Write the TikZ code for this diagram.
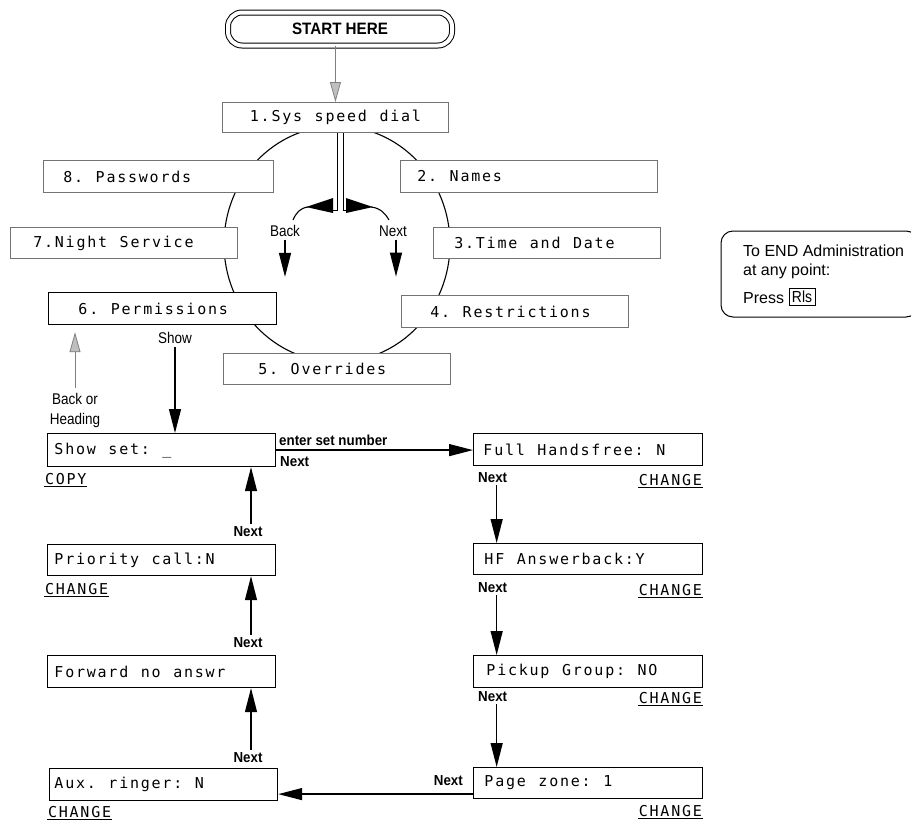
\documentclass[tikz,border=0pt]{standalone}
\usepackage{fontspec}
\setmainfont{Liberation Sans}
\newfontfamily\lcd{DejaVu Sans Mono}
\newfontfamily\nar[FakeStretch=0.87]{Liberation Sans}
\newfontfamily\narb[FakeStretch=0.92]{Liberation Sans Bold}
\usetikzlibrary{arrows.meta,calc}
\makeatletter
\newcommand\lcdtext[1]{\@tfor\lcdch:=#1\do{\makebox[10.8pt]{\lcdch}}}
\makeatother
\begin{document}
\begin{tikzpicture}[x=1pt,y=-1pt,
  menubox/.style={draw=black!55, line width=0.9pt, fill=white, anchor=north west,
    inner ysep=0pt, align=left, font=\lcd\fontsize{15}{17}\selectfont},
  setbox/.style={menubox, draw=black, line width=1.2pt},
  lbl/.style={font=\nar\fontsize{15.5}{20}\selectfont, inner sep=0pt},
  blbl/.style={font=\narb\fontsize{14.5}{16}\selectfont, inner sep=0pt},
  ul/.style={font=\lcd\fontsize{15}{17}\selectfont, inner sep=0pt},
  endtxt/.style={font=\fontsize{16}{18}\selectfont, inner sep=0pt, anchor=west},
  arr/.style={line width=1.3pt, -{Triangle[length=24pt,width=12pt]}},
  garr/.style={draw=black!50, line width=0.8pt, -{Triangle[length=20pt,width=11pt,fill=black!25]}}]
\useasboundingbox (0,0) rectangle (911,825);
\fill[white] (0,0) rectangle (911,825);

% circle of menu items
\draw[line width=1.1pt] (337,244) ellipse [x radius=113pt, y radius=118pt];

% START
\node[draw, double, double distance=4pt, line width=1pt, rounded corners=14pt,
  minimum width=224pt, minimum height=33pt, font=\narb\fontsize{16.5}{18}\selectfont]
  (start) at (340,29) {START HERE};

% menu boxes
\node[menubox, text width=178pt, inner xsep=24pt, minimum height=30pt, align=center] (sys) at (222,102) {\lcdtext{1.Sys~speed~dial}};
\node[menubox, text width=192pt, inner xsep=19pt, minimum height=32pt] (pw) at (43,160) {\lcdtext{8.~Passwords}};
\node[menubox, text width=225pt, inner xsep=16pt, minimum height=32pt] (names) at (400,160) {\lcdtext{2.~Names}};
\node[menubox, text width=183pt, inner xsep=22pt, minimum height=31pt] (night) at (10,227) {\lcdtext{7.Night~Service}};
\node[menubox, text width=187pt, inner xsep=20pt, minimum height=31pt] (time) at (433,227) {\lcdtext{3.Time~and~Date}};
\node[setbox, text width=170pt, inner xsep=29pt, minimum height=32pt] (perm) at (48,292) {\lcdtext{6.~Permissions}};
\node[menubox, text width=171pt, inner xsep=28pt, minimum height=32pt] (restr) at (401,295) {\lcdtext{4.~Restrictions}};
\node[menubox, text width=159pt, inner xsep=34pt, minimum height=31pt] (over) at (223,353) {\lcdtext{5.~Overrides}};

\draw[garr] (sys.north |- start.south) -- (sys.north);

% central Back / Next split
\coordinate (dl) at ([xshift=2pt]sys.south);
\coordinate (dr) at ([xshift=8pt]sys.south);
\draw[line width=1.1pt] (dl) -- ++(0,78) -- ++(-4,0);
\draw[line width=1.1pt] (dr) -- ++(0,78) -- ++(3,0);
\fill (333,198) -- (333,213) -- (306,207) -- cycle;
\fill (346,198) -- (346,213) -- (373,207) -- cycle;
\draw[line width=1.1pt] (308,207) .. controls (300,208) and (296,213) .. (293,220);
\draw[line width=1.1pt] (371,207) .. controls (380,208) and (385,213) .. (389,220);
\node[lbl] (back) at (285,231) {Back};
\node[lbl] (nextc) at (393,231) {Next};
\draw[arr] ([yshift=-3pt]back.south) -- ++(0,37);
\draw[arr] ([xshift=3pt,yshift=-3pt]nextc.south) -- ++(0,37);

% Show / Back or Heading
\node[lbl] (showl) at (175,338) {Show};
\node[lbl, align=center] (boh) at (75,410) {Back or\\Heading};
\draw[garr, shorten >=7pt] ([yshift=5pt]boh.north) -- (boh.north |- perm.south);

% set boxes
\node[setbox, text width=216pt, inner xsep=6pt, minimum height=33pt] (show) at (47,433) {\lcdtext{Show~set:~\_}};
\node[setbox, text width=216pt, inner xsep=6pt, minimum height=31pt] (prio) at (47,544) {\lcdtext{Priority~call:N}};
\node[setbox, text width=216pt, inner xsep=6pt, minimum height=32pt] (fwd) at (47,655) {\lcdtext{Forward~no~answr}};
\node[setbox, text width=220pt, inner xsep=4pt, minimum height=32pt] (aux) at (49,768) {\lcdtext{Aux.~ringer:~N}};
\node[setbox, text width=211pt, inner xsep=9pt, minimum height=32pt] (full) at (473,433) {\lcdtext{Full~Handsfree:~N}};
\node[setbox, text width=209pt, inner xsep=10pt, minimum height=31pt] (hf) at (473,543) {\lcdtext{HF~Answerback:Y}};
\node[setbox, text width=205pt, inner xsep=12pt, minimum height=32pt] (pick) at (473,655) {\lcdtext{Pickup~Group:~NO}};
\node[setbox, text width=209pt, inner xsep=10pt, minimum height=31pt] (page) at (473,767) {\lcdtext{Page~zone:~1}};

\draw[arr] ([yshift=-3pt]showl.south) -- (showl.south |- show.north);

% labels
\node[blbl, anchor=west] (esn) at (279,440) {enter set number};
\node[blbl, anchor=west] (nx0) at (280,462) {Next};
\node[ul, anchor=west] (copy) at (44,480) {\underline{\lcdtext{COPY}}};
\node[ul, anchor=west] (chprio) at (44,590) {\underline{\lcdtext{CHANGE}}};
\node[ul, anchor=west] (chaux) at (47,813) {\underline{\lcdtext{CHANGE}}};

\node[blbl, anchor=west] (n1) at (478,478) {Next};
\node[blbl, anchor=west] (n2) at (478,588) {Next};
\node[blbl, anchor=west] (n3) at (478,697) {Next};
\node[blbl, anchor=east] (n4) at (463,781) {Next};
\node[ul, anchor=east] (ch1) at (703,481) {\underline{\lcdtext{CHANGE}}};
\node[ul, anchor=east] (ch2) at (703,591) {\underline{\lcdtext{CHANGE}}};
\node[ul, anchor=east] (ch3) at (703,699) {\underline{\lcdtext{CHANGE}}};
\node[ul, anchor=east] (ch4) at (703,812) {\underline{\lcdtext{CHANGE}}};

\node[blbl] (l1) at (248,532) {Next};
\node[blbl] (l2) at (248,643) {Next};
\node[blbl] (l3) at (248,758) {Next};

% flow arrows
\draw[arr] (show.east) -- (show.east -| full.west);
\coordinate (a1) at ([xshift=4pt,yshift=-2pt]n1.south);
\coordinate (a2) at ([xshift=4pt,yshift=-2pt]n2.south);
\coordinate (a3) at ([xshift=4pt,yshift=-2pt]n3.south);
\draw[arr] (a1) -- (a1 |- hf.north);
\draw[arr] (a2) -- (a2 |- pick.north);
\draw[arr] (a3) -- (a3 |- page.north);
\draw[arr] ([yshift=-11pt]page.west) -- ([yshift=-11pt]page.west -| aux.east);
\coordinate (b3) at ([xshift=3pt,yshift=3pt]l3.north);
\coordinate (b2) at ([xshift=3pt,yshift=3pt]l2.north);
\coordinate (b1) at ([xshift=3pt,yshift=3pt]l1.north);
\draw[arr] (b3) -- (b3 |- fwd.south);
\draw[arr] (b2) -- (b2 |- prio.south);
\draw[arr] (b1) -- (b1 |- show.south);

% END box
\draw[line width=1pt, rounded corners=12pt] (721,231) rectangle (918,317);
\node[endtxt] (e1) at (743,251) {To END Administration};
\node[endtxt] (e2) at (743,271) {at any point:};
\node[endtxt] (e3) at (743,298) {Press};
\node[draw, line width=0.9pt, inner xsep=3pt, inner ysep=3pt, font=\nar\fontsize{16}{18}\selectfont] (rls) at (802,297) {Rls};
\end{tikzpicture}
\end{document}
